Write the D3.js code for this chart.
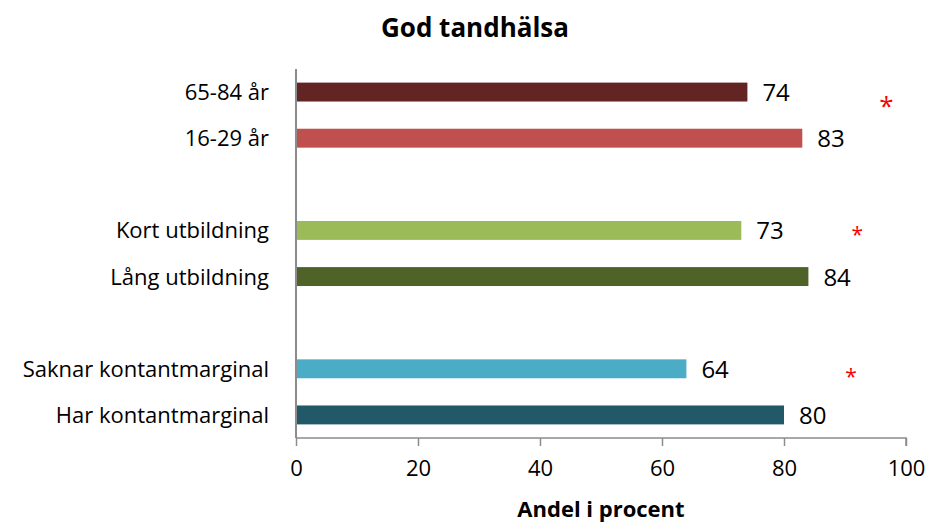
<!DOCTYPE html>
<html>
<head>
<meta charset="utf-8">
<script src="https://cdn.jsdelivr.net/npm/d3@7"></script>
<style>
  body { margin: 0; background: #fff; }
  text { font-family: 'Open Sans', 'Noto Sans', sans-serif; }
</style>
</head>
<body>
<div id="chart"></div>
<script>
// rows top to bottom, blank slots separate the groups
var categories = ['65-84 år', '16-29 år', '', 'Kort utbildning', 'Lång utbildning', '', 'Saknar kontantmarginal', 'Har kontantmarginal'];
var values = [74, 83, null, 73, 84, null, 64, 80];
var colors = ['#632523', '#C0504D', null, '#9BBB59', '#4F6228', null, '#4BACC6', '#215968'];
var ticks = [0, 20, 40, 60, 80, 100];
// significance markers: row and where along the axis they sit
var starRows = [0, 3, 6];
var starAt = [96.8, 92, 91];

var width = 928, height = 524;
var margin = {top: 69, right: 22, bottom: 86, left: 296};
var starSize = [26, 21, 21];
var starDrop = [23, 12, 15];

var svg = d3.select('#chart')
  .append('svg')
  .attr('width', width)
  .attr('height', height);

var rows = categories.map(function(c, i) { return {i: i, label: c, value: values[i], color: colors[i]}; });

var x = d3.scaleLinear().domain([0, 100]).range([margin.left, width - margin.right]);
var y = d3.scaleBand()
  .domain(rows.map(function(d) { return d.i; }))
  .range([margin.top, height - margin.bottom])
  .paddingInner(0.59)
  .paddingOuter(0.295);

// title
svg.append('text')
  .attr('x', 475)
  .attr('y', 37)
  .attr('text-anchor', 'middle')
  .style('font-size', '26px')
  .style('font-weight', 'bold')
  .text('God tandhälsa');

// bars
var data = rows.filter(function(d) { return d.value !== null; });

svg.append('g')
  .selectAll('rect')
  .data(data)
  .enter()
  .append('rect')
  .attr('x', x(0))
  .attr('y', function(d) { return y(d.i); })
  .attr('width', function(d) { return x(d.value) - x(0); })
  .attr('height', y.bandwidth())
  .style('fill', function(d) { return d.color; });

// value labels
svg.append('g')
  .selectAll('text')
  .data(data)
  .enter()
  .append('text')
  .attr('x', function(d) { return x(d.value) + 15; })
  .attr('y', function(d) { return y(d.i) + y.bandwidth() / 2 + 9; })
  .style('font-size', '24px')
  .style('fill', '#000')
  .text(function(d) { return d.value; });

// category labels
svg.append('g')
  .selectAll('text')
  .data(data)
  .enter()
  .append('text')
  .attr('x', margin.left - 27)
  .attr('y', function(d) { return y(d.i) + y.bandwidth() / 2 + 8; })
  .attr('text-anchor', 'end')
  .style('font-size', '22px')
  .style('fill', '#000')
  .text(function(d) { return d.label; });

// stars
svg.append('g')
  .selectAll('text')
  .data(starRows)
  .enter()
  .append('text')
  .attr('x', function(r, k) { return x(starAt[k]); })
  .attr('y', function(r, k) { return y(r) + y.bandwidth() / 2 + starDrop[k]; })
  .attr('text-anchor', 'middle')
  .style('font-size', function(r, k) { return starSize[k] + 'px'; })
  .style('fill', '#FF0000')
  .text('*');

// vertical axis line
svg.append('line')
  .attr('x1', x(0)).attr('x2', x(0))
  .attr('y1', margin.top).attr('y2', height - margin.bottom)
  .style('stroke', '#8c8c8c')
  .style('stroke-width', 2);

// x axis
var xAxis = d3.axisBottom(x).tickValues(ticks).tickSize(8).tickPadding(14);
var gx = svg.append('g')
  .attr('transform', 'translate(0,' + (height - margin.bottom) + ')')
  .call(xAxis);
gx.select('.domain').style('stroke', '#8c8c8c').style('stroke-width', 1.5).attr('d', 'M' + x(0) + ',0H' + x(100) + 'V8');
gx.selectAll('.tick line').style('stroke', '#8c8c8c').style('stroke-width', 1.5);
gx.selectAll('.tick text')
  .style('font-size', '22px')
  .style('font-family', "'Open Sans', 'Noto Sans', sans-serif")
  .style('fill', '#000');

svg.append('text')
  .attr('x', 601)
  .attr('y', 517)
  .attr('text-anchor', 'middle')
  .style('font-size', '22px')
  .style('font-weight', 'bold')
  .text('Andel i procent');
</script>
</body>
</html>
